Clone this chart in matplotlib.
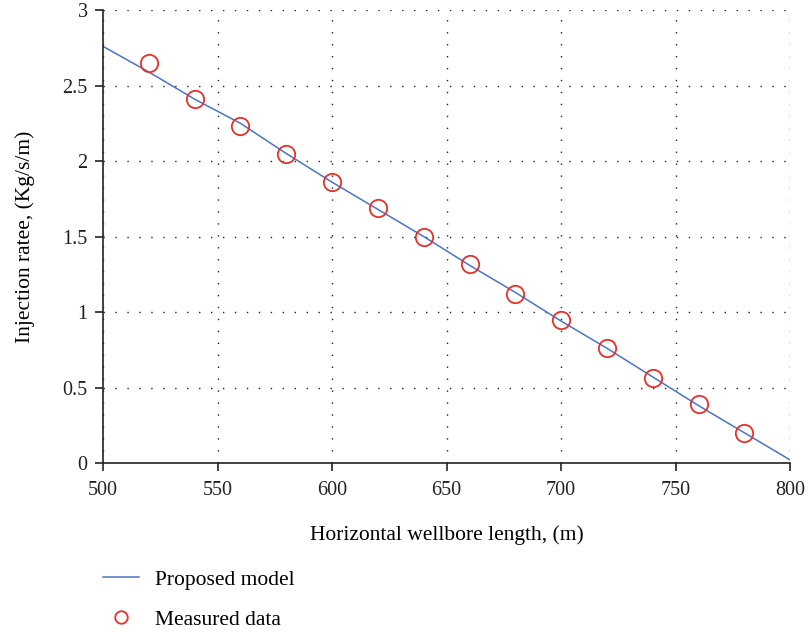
import numpy as np
import matplotlib
matplotlib.use("Agg")
import matplotlib.pyplot as plt

# proposed model curve
model_x = [500, 520, 540, 560, 580, 600, 620, 640, 660, 680, 700, 720, 740, 760, 780, 800]
model_y = [2.76, 2.59, 2.41, 2.25, 2.05, 1.86, 1.68, 1.50, 1.31, 1.13, 0.94, 0.76, 0.57, 0.38, 0.20, 0.02]

# measured data
meas_x = [520, 540, 560, 580, 600, 620, 640, 660, 680, 700, 720, 740, 760, 780]
meas_y = [2.65, 2.41, 2.23, 2.05, 1.86, 1.69, 1.50, 1.32, 1.12, 0.95, 0.76, 0.56, 0.39, 0.20]

plt.rcParams['font.family'] = ['Liberation Serif', 'DejaVu Serif']

fig = plt.figure(figsize=(8.08, 6.32), dpi=100)
ax = fig.add_axes([0.1275, 0.2674, 0.8505, 0.7166])

l1, = ax.plot(model_x, model_y, color='#4a74c9', linewidth=1.1, label='Proposed model')
l2, = ax.plot(meas_x, meas_y, linestyle='none', marker='o', markersize=12.5,
              markerfacecolor='none', markeredgecolor='#e8302a', markeredgewidth=1.3,
              label='Measured data')

ax.set_xlim(500, 800)
ax.set_ylim(0, 3)
ax.set_xticks(np.arange(500, 801, 50))
ax.set_yticks([0, 0.5, 1, 1.5, 2, 2.5, 3])
ax.set_yticklabels(['0', '0.5', '1', '1.5', '2', '2.5', '3'])

for s in ['top', 'right']:
    ax.spines[s].set_visible(False)
for s in ['left', 'bottom']:
    ax.spines[s].set_linewidth(1.2)
    ax.spines[s].set_color('#222222')

ax.tick_params(direction='out', length=6, width=1.2, labelsize=14.5, colors='#222222')
ax.tick_params(axis='x', pad=7)
ax.tick_params(axis='y', pad=5)
ax.grid(True, color='#222222', linestyle=(0, (1, 7.6)), linewidth=1.0)
ax.set_axisbelow(True)

ax.set_xlabel('Horizontal wellbore length, (m)', fontsize=15.5)
ax.set_ylabel('Injection ratee, (Kg/s/m)', fontsize=15.5)
ax.xaxis.set_label_coords(0.5, -0.159)
ax.yaxis.set_label_coords(-0.113, 0.5)
ax.xaxis.label.set_va('center')
ax.yaxis.label.set_va('center')

fig.legend(handles=[l1, l2], loc='upper left', bbox_to_anchor=(0.1275, 0.099),
           frameon=False, fontsize=15.5, handlelength=1.65, markerscale=0.72,
           labelspacing=0.95, handletextpad=0.75, borderpad=0, borderaxespad=0)

fig.savefig('out.png', dpi=100)
